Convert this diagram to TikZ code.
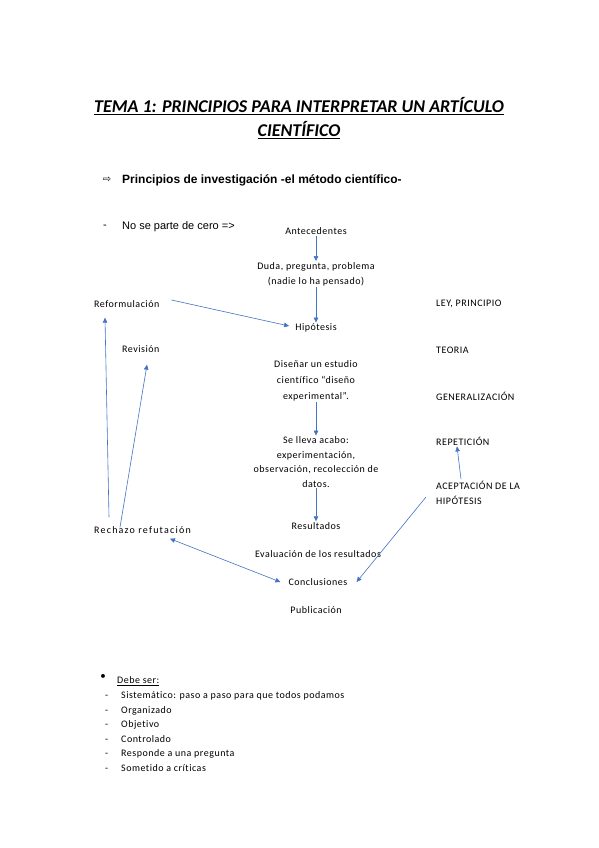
\documentclass[tikz,border=0pt]{standalone}
\usepackage{fontspec}
\setmainfont{Carlito}
\newfontfamily\espaciada{Carlito}[LetterSpace=5,Ligatures=CommonOff]
\newfontfamily\masancha{Carlito}[LetterSpace=12,Ligatures=CommonOff]
\newfontfamily\arialfont{Liberation Sans}
\newfontfamily\symfont{DejaVu Sans}
\usetikzlibrary{arrows.meta}

\definecolor{flechaazul}{RGB}{68,114,196}
\tikzset{
  paso/.style={align=center, font=\espaciada\fontsize{10}{15}\selectfont, inner sep=1pt},
  lado/.style={anchor=west, align=left, font=\espaciada\fontsize{10}{15}\selectfont, inner sep=0pt},
  item/.style={anchor=base west, inner sep=0pt, font=\espaciada\fontsize{10}{12}\selectfont},
  flecha/.style={draw=flechaazul, line width=0.6pt, -{Triangle[length=5pt,width=4.5pt]}},
}

\begin{document}
\begin{tikzpicture}[x=1pt,y=-1pt]
    \useasboundingbox[fill=white] (0,0) rectangle (599,848);
    % titulo
    \node[align=center, font=\fontsize{18}{24}\bfseries\itshape\selectfont] (titulo) at (299,118)
        {\underline{TEMA 1: PRINCIPIOS PARA INTERPRETAR UN ARTÍCULO}\\\underline{CIENTÍFICO}};
    \node[font=\symfont\fontsize{10}{12}\selectfont] (flechablanca) at (107,180) {⇨};
    \node[anchor=west, inner sep=0pt, font=\arialfont\fontsize{12}{14}\bfseries\selectfont] (principios) at (122,180)
        {Principios de investigación -el método científico-};
    \node[font=\arialfont\fontsize{11}{13}\selectfont] (guion) at (105,227) {-};
    \node[anchor=west, inner sep=0pt, font=\arialfont\fontsize{11}{13}\selectfont] (cero) at (122,227) {No se parte de cero =>};

    % pasos del metodo
    \node[paso] (ante) at (316,231) {Antecedentes};
    \node[paso] (duda) at (316,274) {Duda, pregunta, problema\\(nadie lo ha pensado)};
    \node[paso] (hipo) at (316,328) {Hipótesis};
    \node[paso, font=\espaciada\fontsize{10}{16}\selectfont] (disenar) at (316,381) {Diseñar un estudio\\científico “diseño\\experimental”.};
    \node[paso, font=\espaciada\fontsize{10}{14.5}\selectfont] (lleva) at (316,462) {Se lleva acabo:\\experimentación,\\observación, recolección de\\datos.};
    \node[paso] (result) at (316,526) {Resultados};
    \node[paso] (evalua) at (318,554) {Evaluación de los resultados};
    \node[paso] (concl) at (318,582) {Conclusiones};
    \node[paso] (publi) at (316,610) {Publicación};

    % lado izquierdo
    \node[lado] (reform) at (94,304) {Reformulación};
    \node[lado] (revision) at (122,349) {Revisión};
    \node[lado, font=\masancha\fontsize{10}{15}\selectfont] (rechazo) at (94,530) {Rechazo refutación};

    % lado derecho
    \node[lado] (ley) at (436,304) {LEY, PRINCIPIO};
    \node[lado] (teoria) at (436,350) {TEORIA};
    \node[lado] (general) at (436,396) {GENERALIZACIÓN};
    \node[lado] (repet) at (436,441) {REPETICIÓN};
    \node[lado] (acept) at (436,493) {ACEPTACIÓN DE LA\\HIPÓTESIS};

    % flechas
    \draw[flecha] (ante) -- (duda);
    \draw[flecha] (duda) -- (hipo);
    \draw[flecha] (disenar) -- (lleva);
    \draw[flecha] (lleva) -- (result);
    \draw[flecha] ([xshift=12pt,yshift=4pt]reform.east) -- ([xshift=-5pt,yshift=2pt]hipo.west);
    \draw[flecha] ([xshift=15pt,yshift=9pt]rechazo.north west) -- ([xshift=11pt,yshift=-10pt]reform.south west);
    \draw[flecha] ([xshift=26pt,yshift=-1pt]rechazo.north west) -- ([xshift=25pt,yshift=-12pt]revision.south west);
    \draw[flecha, {Triangle[length=5pt,width=4.5pt]}-{Triangle[length=5pt,width=4.5pt]}] ([xshift=76pt,yshift=-5pt]rechazo.south west) -- ([xshift=-7pt]concl.west);
    \draw[flecha] ([xshift=25pt,yshift=2pt]acept.north west) -- ([xshift=21pt,yshift=-1pt]repet.south west);
    \draw[flecha] ([xshift=-10pt,yshift=-4pt]acept.west) -- ([xshift=8pt]concl.east);

    % lista final
    \node[font=\fontsize{11}{12}\selectfont] (vineta) at (103,677) {•};
    \node[item] (debe) at (117,683.5) {\underline{Debe ser:}};
    \node[item] (g1) at (105,698.5) {-};
    \node[item] (sistem) at (121,698.5) {Sistemático: paso a paso para que todos podamos};
    \node[item] (g2) at (105,713.5) {-};
    \node[item] (organ) at (121,713.5) {Organizado};
    \node[item] (g3) at (105,727.5) {-};
    \node[item] (objet) at (121,727.5) {Objetivo};
    \node[item] (g4) at (105,742.5) {-};
    \node[item] (control) at (121,742.5) {Controlado};
    \node[item] (g5) at (105,756.5) {-};
    \node[item] (respon) at (121,756.5) {Responde a una pregunta};
    \node[item] (g6) at (105,771.5) {-};
    \node[item] (somet) at (121,771.5) {Sometido a críticas};
\end{tikzpicture}
\end{document}
